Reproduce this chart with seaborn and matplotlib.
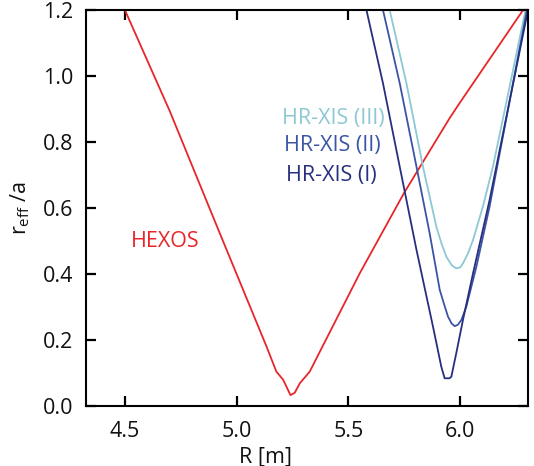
import numpy as np
import pandas as pd
import matplotlib
matplotlib.use("Agg")
import matplotlib.pyplot as plt
import seaborn as sns

# ---- data ----
hexos_R = [4.50, 4.70, 4.925, 5.134, 5.178, 5.208, 5.241, 5.260, 5.283, 5.327,
           5.551, 5.748, 5.953, 6.00, 6.284]
hexos_r = [1.20, 0.895, 0.523, 0.180, 0.104, 0.080, 0.033, 0.040, 0.069, 0.104,
           0.402, 0.644, 0.872, 0.920, 1.202]

xis1_R = [5.581, 5.655, 5.730, 5.805, 5.879, 5.916, 5.931, 5.953, 5.961, 5.983,
          6.013, 6.058, 6.132, 6.304]
xis1_r = [1.20, 0.978, 0.725, 0.473, 0.240, 0.119, 0.084, 0.084, 0.089, 0.160,
          0.261, 0.402, 0.624, 1.20]

xis2_R = [5.655, 5.730, 5.805, 5.864, 5.909, 5.930, 5.946, 5.962, 5.976, 5.990,
          6.006, 6.028, 6.073, 6.132, 6.299]
xis2_r = [1.20, 0.978, 0.725, 0.523, 0.352, 0.305, 0.271, 0.250, 0.242, 0.246,
          0.261, 0.301, 0.422, 0.604, 1.20]

xis3_R = [5.685, 5.760, 5.834, 5.894, 5.918, 5.939, 5.962, 5.983, 6.000, 6.013,
          6.035, 6.058, 6.102, 6.147, 6.293]
xis3_r = [1.20, 0.978, 0.725, 0.543, 0.490, 0.452, 0.427, 0.417, 0.420, 0.432,
          0.462, 0.503, 0.604, 0.725, 1.20]

x_ticks = [4.5, 5.0, 5.5, 6.0]
y_ticks = [0.0, 0.2, 0.4, 0.6, 0.8, 1.0, 1.2]

col_hexos = "#e8262a"
col_1 = "#272f7f"
col_2 = "#3b54a5"
col_3 = "#8cc9d3"

sns.set_theme(style="ticks")
plt.rcParams["font.family"] = ["Open Sans", "DejaVu Sans"]

fig, ax = plt.subplots(figsize=(5.34, 4.66), dpi=100)
fig.subplots_adjust(left=86/534, right=528/534, bottom=1-406/466, top=1-10/466)

for R, r, c in [(hexos_R, hexos_r, col_hexos),
                (xis3_R, xis3_r, col_3),
                (xis2_R, xis2_r, col_2),
                (xis1_R, xis1_r, col_1)]:
    df = pd.DataFrame({"R": R, "r": r})
    sns.lineplot(data=df, x="R", y="r", sort=False, estimator=None,
                 color=c, linewidth=1.3, ax=ax)

ax.set_xlim(4.326, 6.304)
ax.set_ylim(0.0, 1.2)
ax.set_xticks(x_ticks)
ax.set_xticklabels([f"{v:.1f}" for v in x_ticks])
ax.set_yticks(y_ticks)
ax.set_yticklabels([f"{v:.1f}" for v in y_ticks])

for s in ax.spines.values():
    s.set_color("black")
    s.set_linewidth(1.5)
    s.set_visible(True)

ax.tick_params(axis="both", which="major", direction="in", length=7, width=1.6,
               color="black", top=True, right=True,
               labelsize=15.5, labelcolor="#111111")
ax.tick_params(axis="x", pad=11)
ax.tick_params(axis="y", pad=9)

ax.set_xlabel("R [m]", fontsize=15.5, color="#111111")
ax.xaxis.set_label_coords(0.405, -0.128)
ax.xaxis.label.set_va("center")
ax.set_ylabel(r"r$_\mathregular{eff}$ /a", fontsize=15.5, color="#111111")
ax.yaxis.set_label_coords(-0.149, 0.5)
ax.yaxis.label.set_va("center")

ax.text(4.527, 0.497, "HEXOS", color=col_hexos, fontsize=15.5, ha="left", va="center")
ax.text(5.202, 0.870, "HR-XIS (III)", color=col_3, fontsize=15.5, ha="left", va="center")
ax.text(5.211, 0.788, "HR-XIS (II)", color=col_2, fontsize=15.5, ha="left", va="center")
ax.text(5.220, 0.700, "HR-XIS (I)", color=col_1, fontsize=15.5, ha="left", va="center")

ax.grid(False)
fig.savefig("out.png", dpi=100)
